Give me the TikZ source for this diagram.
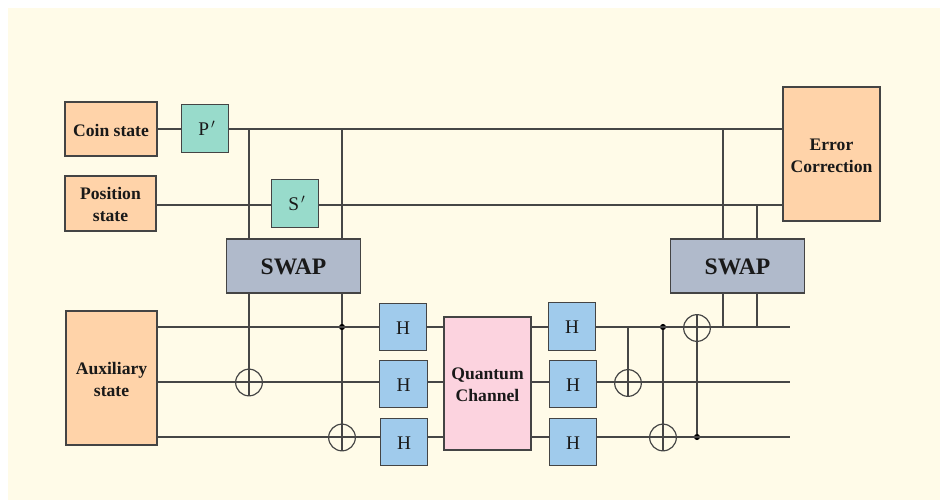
\documentclass[tikz,border=0pt]{standalone}
\usepackage{fontspec}
\setmainfont{Liberation Serif}
\definecolor{cream}{HTML}{FFFBE8}
\definecolor{peach}{HTML}{FFD3A9}
\definecolor{teal2}{HTML}{98DBCB}
\definecolor{slate}{HTML}{B0BACB}
\definecolor{sky}{HTML}{A0CBEC}
\definecolor{pinkq}{HTML}{FCD3DF}
\definecolor{wire}{HTML}{464646}
\definecolor{edge}{HTML}{444444}
\newcommand{\lowtext}[2][2.3pt]{\raisebox{-#1}[\height][\depth]{\begin{tabular}{@{}c@{}}#2\end{tabular}}}
\tikzset{
  x=0.75pt,y=-0.75pt,
  wireline/.style={draw=wire,line width=0.95pt},
  boxbase/.style={draw=edge,line width=0.95pt,inner sep=0pt,outer sep=0pt,align=center,text=black!90},
  peachbox/.style={boxbase,fill=peach,font=\fontsize{13.2}{16.5}\selectfont\bfseries},
  gatebox/.style={boxbase,minimum width=35.5pt,minimum height=35.5pt,font=\fontsize{14.5}{16}\selectfont},
  tealbox/.style={gatebox,fill=teal2},
  hbox/.style={gatebox,fill=sky},
  swapbox/.style={boxbase,fill=slate,minimum width=101pt,minimum height=40.5pt,font=\fontsize{17.7}{20}\selectfont\bfseries},
  channelbox/.style={boxbase,fill=pinkq,font=\fontsize{13.2}{16.5}\selectfont\bfseries},
  oplus/.style={circle,draw=wire,line width=0.9pt,minimum size=20pt,inner sep=0pt,outer sep=0pt},
  ctrl/.style={circle,fill=black,minimum size=4.6pt,inner sep=0pt,outer sep=0pt},
}
\begin{document}
\begin{tikzpicture}
\useasboundingbox (0,0) rectangle (940,500);
\fill[white] (0,0) rectangle (940,500);
\fill[cream] (8,8) rectangle (940,500);
% boxes
\node[peachbox,minimum width=69pt,minimum height=40.5pt] (coin) at (111,129) {\lowtext{Coin state}};
\node[peachbox,minimum width=68.25pt,minimum height=41.25pt] (pos) at (110.5,203.5) {\lowtext{Position\\state}};
\node[peachbox,minimum width=68.25pt,minimum height=100.5pt] (aux) at (111.5,378) {\lowtext{Auxiliary\\state}};
\node[tealbox] (P) at (205,128.5) {\lowtext{\hspace*{3pt}P\hspace{1.5pt}$'$}};
\node[tealbox] (S) at (295,203.5) {\lowtext{\hspace*{3pt}S\hspace{1.5pt}$'$}};
\node[swapbox] (swapA) at (293.5,266) {\lowtext{SWAP}};
\node[swapbox] (swapB) at (737.5,266) {\lowtext{SWAP}};
\node[peachbox,minimum width=72.75pt,minimum height=100.5pt] (ec) at (831.5,154) {\lowtext{Error\\Correction}};
\node[channelbox,minimum width=65.25pt,minimum height=99.75pt] (qc) at (487.5,383.5) {\lowtext{Quantum\\Channel}};
\node[hbox] (h1) at (403,327) {\lowtext{H}};
\node[hbox] (h2) at (403.5,384) {\lowtext{H}};
\node[hbox] (h3) at (404,442) {\lowtext{H}};
\node[hbox] (h4) at (572,326.5) {\lowtext{H}};
\node[hbox] (h5) at (573,384) {\lowtext{H}};
\node[hbox] (h6) at (573,442) {\lowtext{H}};
% rail coordinates
\coordinate (a1) at (157,327);
\coordinate (a2) at (157,382);
\coordinate (a3) at (157,437);
\coordinate (e1) at (790,327);
\coordinate (e2) at (790,382);
\coordinate (e3) at (790,437);
\coordinate (t1) at (249,129);
\coordinate (t2) at (342,129);
\coordinate (t3) at (723,129);
\coordinate (u3) at (757,205);
\coordinate (cs) at (157,129);
\coordinate (ps) at (181,129);
\coordinate (pe) at (229,129);
\coordinate (ec1) at (783,129);
\coordinate (ps2) at (156,205);
\coordinate (sw) at (271,205);
\coordinate (se) at (319,205);
\coordinate (ec2) at (783,205);
\coordinate (s1t) at (249,239);
\coordinate (s2t) at (342,239);
\coordinate (s3t) at (723,239);
\coordinate (s4t) at (757,239);
\coordinate (s1b) at (249,293);
\coordinate (s2b) at (342,293);
\coordinate (s3b) at (723,293);
\coordinate (s4b) at (757,293);
\coordinate (w3) at (723,327);
\coordinate (w4) at (757,327);
\coordinate (c3) at (628,327);
\coordinate (m1a) at (379,327);
\coordinate (m1b) at (427,327);
\coordinate (m1c) at (444,327);
\coordinate (m1d) at (531,327);
\coordinate (m1e) at (548,327);
\coordinate (m1f) at (596,327);
\coordinate (m2a) at (379,382);
\coordinate (m2b) at (428,382);
\coordinate (m2c) at (444,382);
\coordinate (m2d) at (531,382);
\coordinate (m2e) at (549,382);
\coordinate (m2f) at (597,382);
\coordinate (m3a) at (380,437);
\coordinate (m3b) at (428,437);
\coordinate (m3c) at (444,437);
\coordinate (m3d) at (531,437);
\coordinate (m3e) at (549,437);
\coordinate (m3f) at (597,437);
% targets and controls
\node[oplus] (x1) at (249,382.5) {};
\node[oplus] (x2) at (342,437.5) {};
\node[oplus] (x3) at (628,383) {};
\node[oplus] (x4) at (663,437.5) {};
\node[oplus] (x5) at (697,328) {};
\node[ctrl] (d1) at (342,327) {};
\node[ctrl] (d2) at (663,327) {};
\node[ctrl] (d3) at (697,437) {};
% horizontal wires
\draw[wireline] (cs) -- (ps);
\draw[wireline] (pe) -- (ec1);
\draw[wireline] (ps2) -- (sw);
\draw[wireline] (se) -- (ec2);
\draw[wireline] (a1) -- (m1a);
\draw[wireline] (m1b) -- (m1c);
\draw[wireline] (m1d) -- (m1e);
\draw[wireline] (m1f) -- (e1);
\draw[wireline] (a2) -- (m2a);
\draw[wireline] (m2b) -- (m2c);
\draw[wireline] (m2d) -- (m2e);
\draw[wireline] (m2f) -- (e2);
\draw[wireline] (a3) -- (m3a);
\draw[wireline] (m3b) -- (m3c);
\draw[wireline] (m3d) -- (m3e);
\draw[wireline] (m3f) -- (e3);
% vertical connectors
\draw[wireline] (t1) -- (s1t);
\draw[wireline] (t2) -- (s2t);
\draw[wireline] (t3) -- (s3t);
\draw[wireline] (u3) -- (s4t);
\draw[wireline] (s1b) -- (x1.south);
\draw[wireline] (s2b) -- (d1) -- (x2.south);
\draw[wireline] (s3b) -- (w3);
\draw[wireline] (s4b) -- (w4);
\draw[wireline] (c3) -- (x3.south);
\draw[wireline] (d2) -- (x4.south);
\draw[wireline] (x5.north) -- (d3);
\end{tikzpicture}
\end{document}
